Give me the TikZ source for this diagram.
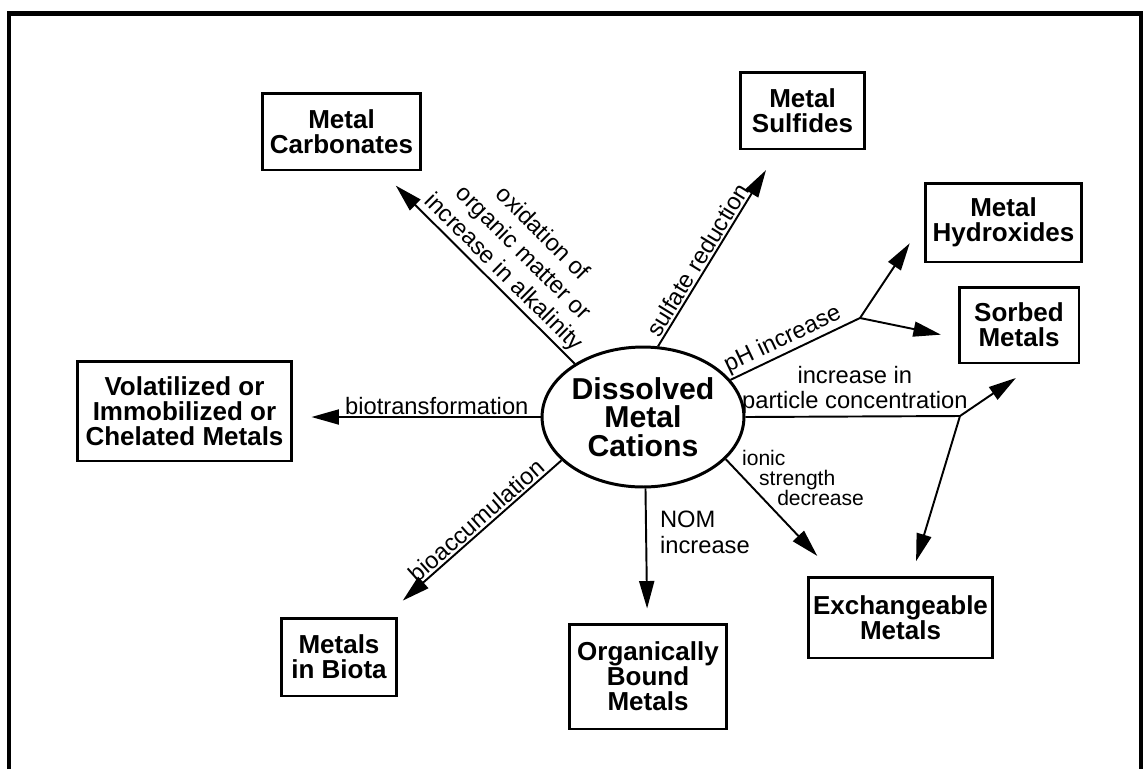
\documentclass[tikz,border=0pt]{standalone}
\usepackage{fontspec}
\setmainfont{Liberation Sans}
\usetikzlibrary{shapes.geometric,arrows.meta}

\tikzset{
  metalbox/.style={draw, line width=1.7pt, align=center, inner sep=0pt,
    font=\fontsize{14.8}{14.2}\selectfont\bfseries},
  flow/.style={line width=1.1pt, -{Triangle[length=0.55cm,width=0.3cm]}},
  lbl/.style={inner sep=1pt, font=\fontsize{13.5}{14.6}\selectfont},
}

\begin{document}
\begin{tikzpicture}[x=0.02cm, y=-0.02cm]
    \useasboundingbox (0,0) rectangle (1144,769);
    \draw[line width=2.3pt] (9,769) -- (9,13.5) -- (1141,13.5) -- (1141,769);

    \node[ellipse, draw, line width=1.7pt, minimum width=3.8cm, minimum height=2.8cm, inner sep=0pt, align=center, font=\fontsize{17.2}{16.2}\selectfont\bfseries] (dmc) at (643,417) {Dissolved\\Metal\\Cations};

    \node[metalbox, minimum width=3.18cm, minimum height=1.54cm] (carb) at (341.5,131.5) {Metal\\Carbonates};
    \node[metalbox, minimum width=2.5cm, minimum height=1.54cm] (sulf) at (802.5,110.5) {Metal\\Sulfides};
    \node[metalbox, minimum width=3.14cm, minimum height=1.58cm] (hydr) at (1003.5,222.5) {Metal\\Hydroxides};
    \node[metalbox, minimum width=2.4cm, minimum height=1.52cm] (sorb) at (1019,325) {Sorbed\\Metals};
    \node[metalbox, minimum width=4.3cm, minimum height=2cm] (vol) at (184.5,411) {Volatilized or\\Immobilized or\\Chelated Metals};
    \node[metalbox, minimum width=2.32cm, minimum height=1.56cm] (biota) at (339,657) {Metals\\in Biota};
    \node[metalbox, minimum width=3.16cm, minimum height=2.1cm] (orgb) at (648,676.5) {Organically\\Bound\\Metals};
    \node[metalbox, minimum width=3.7cm, minimum height=1.62cm] (exch) at (900.5,617.5) {Exchangeable\\Metals};

    \coordinate (jph) at (860,318);
    \coordinate (jpc) at (960,416);

    \draw[flow, shorten >=0.4cm] (dmc.142) -- node[lbl, sloped, above, pos=0.42, align=center, font=\fontsize{13.5}{15.6}\selectfont] (loxi) {oxidation of\\organic matter or\\increase in alkalinity} (carb);
    \draw[flow, shorten >=0.46cm] (dmc.78.7) -- node[lbl, sloped, above, pos=0.41] (lsulf) {sulfate reduction} (sulf);
    \draw[line width=1.1pt] (dmc.23.2) -- node[lbl, sloped, above, pos=0.45] (lph) {pH increase} (jph);
    \draw[flow, shorten >=0.5cm] (jph) -- (hydr.west);
    \draw[flow, shorten >=0.34cm] (jph) -- (sorb.192);
    \draw[line width=1.1pt] (dmc.east) -- node[lbl, above, pos=0.51, align=center] (lpart) {increase in\\particle concentration} (jpc);
    \draw[flow, shorten >=0.48cm] (jpc) -- (sorb.293);
    \draw[flow, shorten >=0.3cm] (jpc) -- (exch.75);
    \draw[flow, shorten >=0.54cm] (dmc.-27.4) -- (exch.147);
    \draw[flow, shorten >=0.28cm] (dmc.-88) -- (orgb);
    \draw[flow, shorten >=0.48cm] (dmc.208.3) -- node[lbl, sloped, above, pos=0.44] (lbio) {bioaccumulation} (biota);
    \draw[flow, shorten >=0.36cm] (dmc.west) -- node[lbl, above, pos=0.42] (ltrans) {biotransformation} (dmc.west -| vol.east);

    \node[lbl, anchor=north west, align=left, font=\fontsize{12}{11.4}\selectfont] (lion) at (740,448) {ionic\\\hspace*{9.7pt}strength\\\hspace*{20pt}decrease};
    \node[lbl, anchor=north west, align=left] (lnom) at (658,509) {NOM\\increase};
\end{tikzpicture}
\end{document}
